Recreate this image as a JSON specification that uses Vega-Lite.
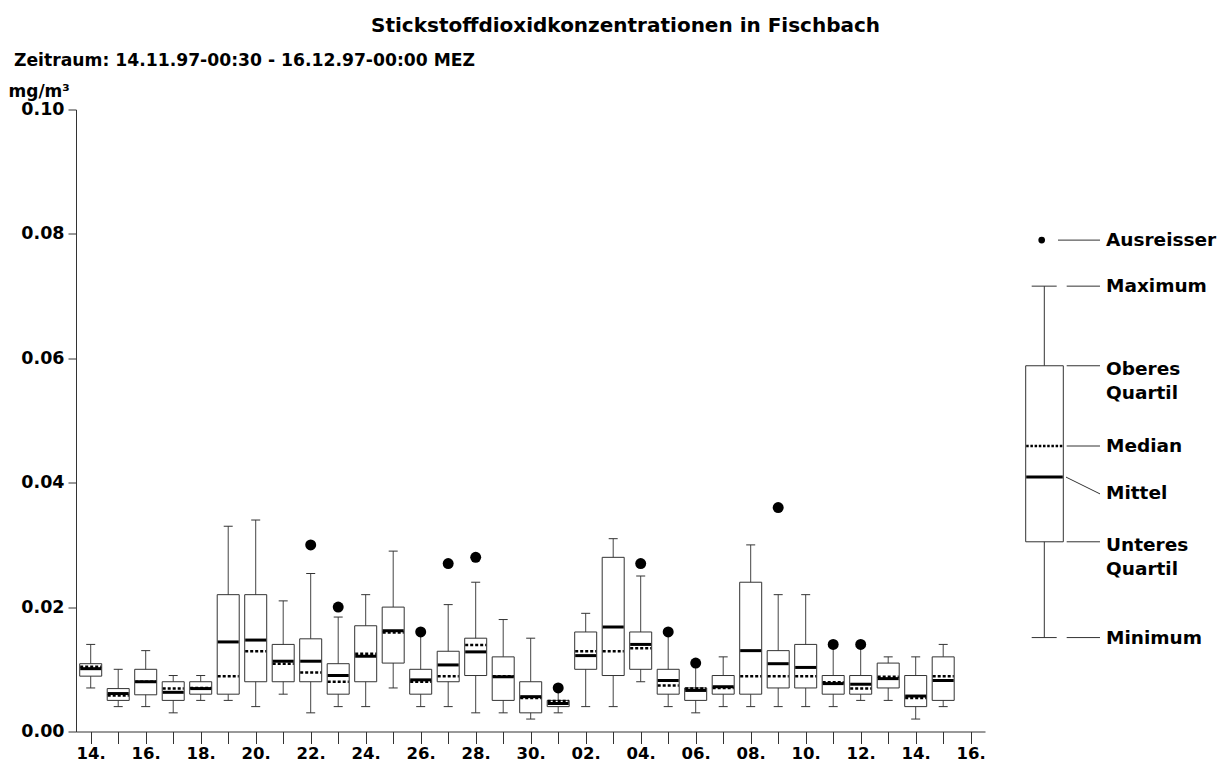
{
  "$schema": "https://vega.github.io/schema/vega-lite/v6.json",
  "background": "white",
  "padding": {"left": 8, "top": 15.5, "right": 0, "bottom": 4},
  "bounds": "flush",
  "spacing": 15,
  "config": {"view": {"stroke": null}, "font": "DejaVu Sans"},
  "title": {"text": "Stickstoffdioxidkonzentrationen in Fischbach", "anchor": "start", "frame": "group", "dx": 295, "offset": 0, "baseline": "alphabetic", "font": "DejaVu Sans", "fontSize": 20, "fontWeight": "bold", "color": "black"},
  "datasets": {
    "boxes": [
      {"date": "1997-11-14", "min": 0.007, "q1": 0.0089, "median": 0.0104, "mean": 0.0101, "q3": 0.0109, "max": 0.014, "out": null},
      {"date": "1997-11-15", "min": 0.004, "q1": 0.005, "median": 0.0058, "mean": 0.0061, "q3": 0.0069, "max": 0.010, "out": null},
      {"date": "1997-11-16", "min": 0.004, "q1": 0.0059, "median": 0.0080, "mean": 0.0080, "q3": 0.010, "max": 0.013, "out": null},
      {"date": "1997-11-17", "min": 0.003, "q1": 0.005, "median": 0.0069, "mean": 0.0063, "q3": 0.008, "max": 0.009, "out": null},
      {"date": "1997-11-18", "min": 0.005, "q1": 0.006, "median": 0.0070, "mean": 0.0069, "q3": 0.008, "max": 0.009, "out": null},
      {"date": "1997-11-19", "min": 0.005, "q1": 0.006, "median": 0.0089, "mean": 0.0144, "q3": 0.022, "max": 0.033, "out": null},
      {"date": "1997-11-20", "min": 0.004, "q1": 0.008, "median": 0.0129, "mean": 0.0147, "q3": 0.022, "max": 0.034, "out": null},
      {"date": "1997-11-21", "min": 0.006, "q1": 0.008, "median": 0.0109, "mean": 0.0113, "q3": 0.014, "max": 0.021, "out": null},
      {"date": "1997-11-22", "min": 0.003, "q1": 0.008, "median": 0.0095, "mean": 0.0113, "q3": 0.0149, "max": 0.0254, "out": 0.030},
      {"date": "1997-11-23", "min": 0.004, "q1": 0.006, "median": 0.0080, "mean": 0.0090, "q3": 0.0109, "max": 0.0184, "out": 0.020},
      {"date": "1997-11-24", "min": 0.004, "q1": 0.008, "median": 0.0125, "mean": 0.0121, "q3": 0.017, "max": 0.022, "out": null},
      {"date": "1997-11-25", "min": 0.007, "q1": 0.011, "median": 0.0159, "mean": 0.0162, "q3": 0.020, "max": 0.029, "out": null},
      {"date": "1997-11-26", "min": 0.004, "q1": 0.006, "median": 0.0080, "mean": 0.0083, "q3": 0.010, "max": 0.016, "out": 0.016},
      {"date": "1997-11-27", "min": 0.004, "q1": 0.008, "median": 0.0089, "mean": 0.0107, "q3": 0.0129, "max": 0.0204, "out": 0.027},
      {"date": "1997-11-28", "min": 0.003, "q1": 0.009, "median": 0.0139, "mean": 0.0128, "q3": 0.015, "max": 0.024, "out": 0.028},
      {"date": "1997-11-29", "min": 0.003, "q1": 0.005, "median": 0.0089, "mean": 0.0088, "q3": 0.012, "max": 0.018, "out": null},
      {"date": "1997-11-30", "min": 0.002, "q1": 0.003, "median": 0.0054, "mean": 0.0056, "q3": 0.008, "max": 0.015, "out": null},
      {"date": "1997-12-01", "min": 0.003, "q1": 0.004, "median": 0.0049, "mean": 0.0045, "q3": 0.005, "max": 0.007, "out": 0.007},
      {"date": "1997-12-02", "min": 0.004, "q1": 0.010, "median": 0.0129, "mean": 0.0122, "q3": 0.016, "max": 0.019, "out": null},
      {"date": "1997-12-03", "min": 0.004, "q1": 0.009, "median": 0.0129, "mean": 0.0168, "q3": 0.028, "max": 0.031, "out": null},
      {"date": "1997-12-04", "min": 0.008, "q1": 0.010, "median": 0.0134, "mean": 0.0140, "q3": 0.016, "max": 0.025, "out": 0.027},
      {"date": "1997-12-05", "min": 0.004, "q1": 0.006, "median": 0.0074, "mean": 0.0082, "q3": 0.010, "max": 0.016, "out": 0.016},
      {"date": "1997-12-06", "min": 0.003, "q1": 0.005, "median": 0.0069, "mean": 0.0066, "q3": 0.007, "max": 0.011, "out": 0.011},
      {"date": "1997-12-07", "min": 0.004, "q1": 0.006, "median": 0.0070, "mean": 0.0072, "q3": 0.009, "max": 0.012, "out": null},
      {"date": "1997-12-08", "min": 0.004, "q1": 0.006, "median": 0.0089, "mean": 0.0130, "q3": 0.024, "max": 0.030, "out": null},
      {"date": "1997-12-09", "min": 0.004, "q1": 0.007, "median": 0.0089, "mean": 0.0109, "q3": 0.013, "max": 0.022, "out": 0.036},
      {"date": "1997-12-10", "min": 0.004, "q1": 0.007, "median": 0.0089, "mean": 0.0103, "q3": 0.014, "max": 0.022, "out": null},
      {"date": "1997-12-11", "min": 0.004, "q1": 0.006, "median": 0.0079, "mean": 0.0077, "q3": 0.009, "max": 0.014, "out": 0.014},
      {"date": "1997-12-12", "min": 0.005, "q1": 0.006, "median": 0.0069, "mean": 0.0076, "q3": 0.009, "max": 0.014, "out": 0.014},
      {"date": "1997-12-13", "min": 0.005, "q1": 0.007, "median": 0.0088, "mean": 0.0085, "q3": 0.011, "max": 0.012, "out": null},
      {"date": "1997-12-14", "min": 0.002, "q1": 0.004, "median": 0.0054, "mean": 0.0057, "q3": 0.009, "max": 0.012, "out": null},
      {"date": "1997-12-15", "min": 0.004, "q1": 0.005, "median": 0.0089, "mean": 0.0082, "q3": 0.012, "max": 0.014, "out": null}
    ],
    "legendbox": [
      {"min": 0.0151, "q1": 0.0305, "median": 0.0459, "mean": 0.0409, "q3": 0.0588, "max": 0.0716, "out": 0.0790}
    ],
    "legendlabels": [
      {"label": "Ausreisser", "value": 0.0790},
      {"label": "Maximum", "value": 0.0716},
      {"label": "Oberes\nQuartil", "value": 0.0588},
      {"label": "Median", "value": 0.0459},
      {"label": "Mittel", "value": 0.0409},
      {"label": "Unteres\nQuartil", "value": 0.0305},
      {"label": "Minimum", "value": 0.0151}
    ]
  },
  "hconcat": [
    {
      "width": 909,
      "height": 622,
      "title": {"text": "Zeitraum: 14.11.97-00:30 - 16.12.97-00:00 MEZ", "anchor": "start", "frame": "group", "dx": -62, "offset": -0.5, "baseline": "alphabetic", "font": "DejaVu Sans", "fontSize": 17.2, "fontWeight": "bold", "color": "black"},
      "data": {"name": "boxes"},
      "encoding": {
        "x": {
          "field": "date", "type": "temporal",
          "scale": {"type": "utc", "domain": [{"year": 1997, "month": 11, "date": 13, "hours": 11, "minutes": 10, "utc": true}, {"year": 1997, "month": 12, "date": 16, "hours": 12, "minutes": 29, "utc": true}]},
          "axis": {
            "title": null,
            "tickCount": {"interval": "day", "step": 1},
            "labelExpr": "utcdate(datum.value) % 2 == 0 ? utcFormat(datum.value, '%d.') : ''",
            "labelOverlap": false,
            "labelFlush": false,
            "labelFont": "DejaVu Sans",
            "labelFontSize": 16.5,
            "labelFontWeight": "bold",
            "labelColor": "black",
            "labelPadding": 2,
            "tickSize": 12,
            "tickColor": "#333",
            "domainColor": "#333",
            "grid": false
          }
        }
      },
      "layer": [
        {
          "mark": {"type": "rule", "color": "#444", "strokeWidth": 1},
          "encoding": {
            "y": {
              "field": "min", "type": "quantitative",
              "scale": {"domain": [0, 0.1], "nice": false, "zero": true},
              "axis": {
                "title": "mg/m³",
                "titleAngle": 0, "titleAlign": "left", "titleBaseline": "alphabetic",
                "titleX": -68, "titleY": -13,
                "titleFont": "DejaVu Sans", "titleFontSize": 17, "titleFontWeight": "bold", "titleColor": "black",
                "values": [0, 0.02, 0.04, 0.06, 0.08, 0.1],
                "format": ".2f",
                "labelFont": "DejaVu Sans", "labelFontSize": 17.5, "labelFontWeight": "bold", "labelColor": "black",
                "labelPadding": 4,
                "tickSize": 8, "tickColor": "#333", "domainColor": "#333",
                "grid": false
              }
            },
            "y2": {"field": "max"}
          }
        },
        {
          "mark": {"type": "rule", "color": "#333", "strokeWidth": 1, "xOffset": -4.5, "x2Offset": 4.5},
          "encoding": {"x2": {"field": "date"}, "y": {"field": "max", "type": "quantitative"}}
        },
        {
          "mark": {"type": "rule", "color": "#333", "strokeWidth": 1, "xOffset": -4.5, "x2Offset": 4.5},
          "encoding": {"x2": {"field": "date"}, "y": {"field": "min", "type": "quantitative"}}
        },
        {
          "mark": {"type": "rect", "fill": "white", "stroke": "#333", "strokeWidth": 1, "xOffset": -11, "x2Offset": 11},
          "encoding": {"x2": {"field": "date"}, "y": {"field": "q1", "type": "quantitative"}, "y2": {"field": "q3"}}
        },
        {
          "mark": {"type": "rule", "color": "black", "strokeWidth": 2.5, "strokeDash": [3, 2], "xOffset": -10.5, "x2Offset": 10.5},
          "encoding": {"x2": {"field": "date"}, "y": {"field": "median", "type": "quantitative"}}
        },
        {
          "mark": {"type": "rule", "color": "black", "strokeWidth": 3, "xOffset": -10.5, "x2Offset": 10.5},
          "encoding": {"x2": {"field": "date"}, "y": {"field": "mean", "type": "quantitative"}}
        },
        {
          "mark": {"type": "point", "filled": true, "shape": "circle", "color": "black", "opacity": 1, "size": 120},
          "encoding": {"y": {"field": "out", "type": "quantitative"}}
        }
      ]
    },
    {
      "width": 224,
      "height": 622,
      "layer": [
        {
          "data": {"name": "legendbox"},
          "mark": {"type": "rule", "color": "#333", "strokeWidth": 1},
          "encoding": {
            "x": {"datum": 44.3, "type": "quantitative", "scale": {"domain": [0, 224], "nice": false, "zero": false}, "axis": null},
            "y": {"field": "min", "type": "quantitative", "scale": {"domain": [0, 0.1], "nice": false}, "axis": null},
            "y2": {"field": "max"}
          }
        },
        {
          "data": {"name": "legendbox"},
          "mark": {"type": "rule", "color": "#333", "strokeWidth": 1},
          "encoding": {"x": {"datum": 31.7, "type": "quantitative", "axis": null}, "x2": {"datum": 56.7}, "y": {"field": "max", "type": "quantitative", "axis": null}}
        },
        {
          "data": {"name": "legendbox"},
          "mark": {"type": "rule", "color": "#333", "strokeWidth": 1},
          "encoding": {"x": {"datum": 31.7, "type": "quantitative", "axis": null}, "x2": {"datum": 56.7}, "y": {"field": "min", "type": "quantitative", "axis": null}}
        },
        {
          "data": {"name": "legendbox"},
          "mark": {"type": "rect", "fill": "white", "stroke": "#333", "strokeWidth": 1},
          "encoding": {"x": {"datum": 25.7, "type": "quantitative", "axis": null}, "x2": {"datum": 63.3}, "y": {"field": "q1", "type": "quantitative", "axis": null}, "y2": {"field": "q3"}}
        },
        {
          "data": {"name": "legendbox"},
          "mark": {"type": "rule", "color": "black", "strokeWidth": 2.5, "strokeDash": [2.5, 1.7]},
          "encoding": {"x": {"datum": 26.2, "type": "quantitative", "axis": null}, "x2": {"datum": 62.8}, "y": {"field": "median", "type": "quantitative", "axis": null}}
        },
        {
          "data": {"name": "legendbox"},
          "mark": {"type": "rule", "color": "black", "strokeWidth": 3},
          "encoding": {"x": {"datum": 26.2, "type": "quantitative", "axis": null}, "x2": {"datum": 62.8}, "y": {"field": "mean", "type": "quantitative", "axis": null}}
        },
        {
          "data": {"name": "legendbox"},
          "mark": {"type": "point", "filled": true, "shape": "circle", "color": "black", "opacity": 1, "size": 45},
          "encoding": {"x": {"datum": 41.7, "type": "quantitative", "axis": null}, "y": {"field": "out", "type": "quantitative", "axis": null}}
        },
        {
          "data": {"name": "legendlabels"},
          "transform": [{"filter": "datum.label != 'Mittel' && datum.label != 'Ausreisser'"}],
          "mark": {"type": "rule", "color": "#333", "strokeWidth": 1},
          "encoding": {"x": {"datum": 66.7, "type": "quantitative", "axis": null}, "x2": {"datum": 100}, "y": {"field": "value", "type": "quantitative", "axis": null}}
        },
        {
          "data": {"name": "legendlabels"},
          "transform": [{"filter": "datum.label == 'Ausreisser'"}],
          "mark": {"type": "rule", "color": "#333", "strokeWidth": 1},
          "encoding": {"x": {"datum": 58, "type": "quantitative", "axis": null}, "x2": {"datum": 100}, "y": {"field": "value", "type": "quantitative", "axis": null}}
        },
        {
          "data": {"name": "legendlabels"},
          "transform": [{"filter": "datum.label == 'Mittel'"}],
          "mark": {"type": "rule", "color": "#333", "strokeWidth": 1},
          "encoding": {"x": {"datum": 66, "type": "quantitative", "axis": null}, "x2": {"datum": 100}, "y": {"field": "value", "type": "quantitative", "axis": null}, "y2": {"datum": 0.0382}}
        },
        {
          "data": {"name": "legendlabels"},
          "transform": [{"filter": "datum.label != 'Mittel' && !test(/Quartil/, datum.label)"}],
          "mark": {"type": "text", "align": "left", "baseline": "middle", "font": "DejaVu Sans", "fontSize": 18.5, "fontWeight": "bold", "color": "black"},
          "encoding": {"x": {"datum": 106, "type": "quantitative", "axis": null}, "y": {"field": "value", "type": "quantitative", "axis": null}, "text": {"field": "label"}}
        },
        {
          "data": {"name": "legendlabels"},
          "transform": [{"filter": "datum.label == 'Mittel'"}],
          "mark": {"type": "text", "align": "left", "baseline": "middle", "dy": 16, "font": "DejaVu Sans", "fontSize": 18.5, "fontWeight": "bold", "color": "black"},
          "encoding": {"x": {"datum": 106, "type": "quantitative", "axis": null}, "y": {"field": "value", "type": "quantitative", "axis": null}, "text": {"field": "label"}}
        },
        {
          "data": {"name": "legendlabels"},
          "transform": [{"filter": "test(/Quartil/, datum.label)"}],
          "mark": {"type": "text", "align": "left", "baseline": "top", "dy": -6, "lineBreak": "\n", "lineHeight": 24, "font": "DejaVu Sans", "fontSize": 18.5, "fontWeight": "bold", "color": "black"},
          "encoding": {"x": {"datum": 106, "type": "quantitative", "axis": null}, "y": {"field": "value", "type": "quantitative", "axis": null}, "text": {"field": "label"}}
        }
      ]
    }
  ]
}
